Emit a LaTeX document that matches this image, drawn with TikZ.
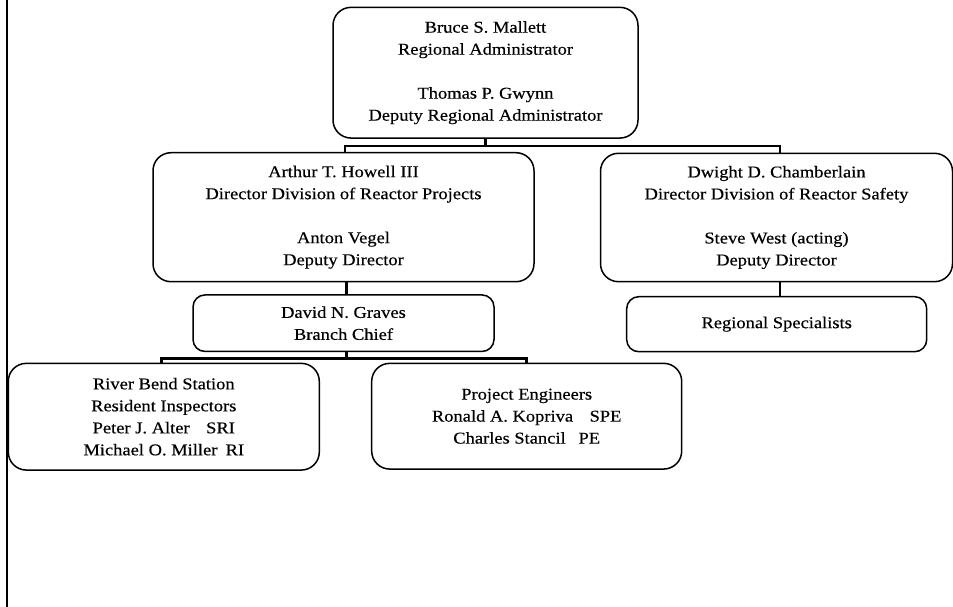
\documentclass[tikz,border=0pt]{standalone}
\usepackage{fontspec}
\setmainfont{Liberation Serif}[FakeStretch=1.12,FakeBold=0.4]
\begin{document}
\begin{tikzpicture}[x=1pt,y=-1pt,
  box/.style={draw, line width=1.5pt, rounded corners=18pt, align=center, inner sep=0pt,
    font=\fontsize{16.5}{22}\selectfont},
  sbox/.style={box, rounded corners=12pt},
  conn/.style={line width=2.6pt},
  frameline/.style={line width=2.2pt}]
\useasboundingbox (0,0) rectangle (953,607);
% left border
\draw[frameline] (6.7,0) -- (6.7,607);
% boxes
\node[box, minimum width=305pt, minimum height=130.7pt] (top) at (485.5,72.7)
  {Bruce S. Mallett\\Regional Administrator\\[22pt]Thomas P. Gwynn\\Deputy Regional Administrator};
\node[box, minimum width=381pt, minimum height=129pt] (howell) at (343.5,217.2)
  {Arthur T. Howell III\\Director Division of Reactor Projects\\[22pt]Anton Vegel\\Deputy Director};
\node[box, minimum width=352pt, minimum height=128.4pt] (cham) at (776.5,217.5)
  {Dwight D. Chamberlain\\Director Division of Reactor Safety\\[22pt]Steve West (acting)\\Deputy Director};
\node[sbox, minimum width=301pt, minimum height=56.5pt] (graves) at (343.5,323.2)
  {David N. Graves\\Branch Chief};
\node[sbox, minimum width=300pt, minimum height=55pt] (spec) at (776.7,324.2)
  {Regional Specialists};
\node[box, minimum width=311pt, minimum height=106.7pt] (river) at (163.8,416.7)
  {River Bend Station\\Resident Inspectors\\Peter J. Alter\quad SRI\\Michael O. Miller\enspace RI};
\node[box, minimum width=310pt, minimum height=105.7pt] (proj) at (526.7,416.2)
  {Project Engineers\\Ronald A. Kopriva\quad SPE\\Charles Stancil\enspace\ PE};
% connectors
\coordinate (barL) at (345,146);
\coordinate (barR) at (780,146);
\draw[conn] (top.south) -- (top.south |- barL);
\draw[conn] (howell.north -| barL) -- (barL) -- (barR) -- (cham.north -| barR);
\draw[conn] ([xshift=3.2pt]howell.south) -- ([xshift=3.2pt]graves.north);
\coordinate (bar2L) at (161.7,358.5);
\draw[conn] ([xshift=3.2pt]graves.south) -- ([xshift=3.2pt]graves.south |- bar2L);
\draw[conn] (river.north -| bar2L) -- (bar2L) -- (proj.north |- bar2L) -- (proj.north);
\draw[conn] ([xshift=3.5pt]cham.south) -- ([xshift=3.3pt]spec.north);
\end{tikzpicture}
\end{document}
